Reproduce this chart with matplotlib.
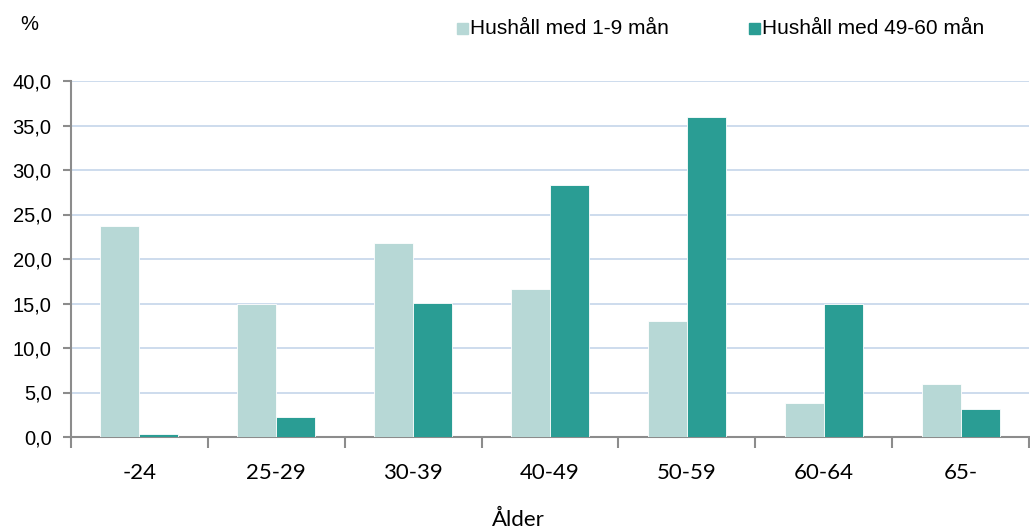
import numpy as np
import matplotlib.pyplot as plt

kategorier = ['-24', '25-29', '30-39', '40-49', '50-59', '60-64', '65-']
kort = [23.7, 15.0, 21.8, 16.6, 13.0, 3.8, 5.9]
lang = [0.3, 2.2, 15.1, 28.3, 36.0, 15.0, 3.1]
serier = ['Hushåll med 1-9 mån', 'Hushåll med 49-60 mån']

ljus = '#b7d8d6'
mork = '#2a9d94'

plt.rcParams['font.family'] = ['Liberation Sans', 'DejaVu Sans']

fig = plt.figure(figsize=(10.3, 5.31), dpi=100)
ax = fig.add_axes([71/1030, (531-437)/531, (1029-71)/1030, (437-81)/531])

x = np.arange(len(kategorier))
w = 0.285
ax.bar(x - w/2, kort, w, color=ljus, edgecolor='white', linewidth=0.6, zorder=3)
ax.bar(x + w/2, lang, w, color=mork, edgecolor='white', linewidth=0.6, zorder=3)

ax.set_xlim(-0.5, len(kategorier) - 0.5)
ax.set_ylim(0, 40)
ax.set_yticks(np.arange(0, 41, 5))
ax.set_yticklabels([f'{v:.1f}'.replace('.', ',') for v in np.arange(0, 41, 5)], fontsize=14.5)
ax.yaxis.grid(True, color='#c5d5ea', linewidth=1.2, zorder=0)

ax.set_xticks(np.arange(-0.5, len(kategorier) - 0.4, 1))
ax.set_xticklabels([])
ax.set_xticks(x, minor=True)
ax.set_xticklabels(kategorier, minor=True, fontsize=16, family=['Lato', 'DejaVu Sans'])
ax.tick_params(axis='x', which='minor', length=0, pad=19)
ax.tick_params(axis='x', which='major', length=8, color='#8c8c8c', width=1.5)
ax.tick_params(axis='y', length=6, color='#8c8c8c', width=1.5, pad=8)

for s in ['top', 'right']:
    ax.spines[s].set_visible(False)
for s in ['left', 'bottom']:
    ax.spines[s].set_color('#8c8c8c')
    ax.spines[s].set_linewidth(1.5)

fig.text(518/1030, 1 - 520/531, 'Ålder', fontsize=16, ha='center', va='center',
         family=['Lato', 'DejaVu Sans'])
fig.text(20/1030, 1 - 25/531, '%', fontsize=14.5, va='center')

# legend
for xp, col, lab in [(457, ljus, serier[0]), (749, mork, serier[1])]:
    fig.patches.append(plt.Rectangle((xp/1030, 1 - 34/531), 11/1030, 11/531,
                                     transform=fig.transFigure, color=col))
    fig.text((xp + 13)/1030, 1 - 28/531, lab, fontsize=15, va='center')

fig.savefig('out.png', dpi=100)
